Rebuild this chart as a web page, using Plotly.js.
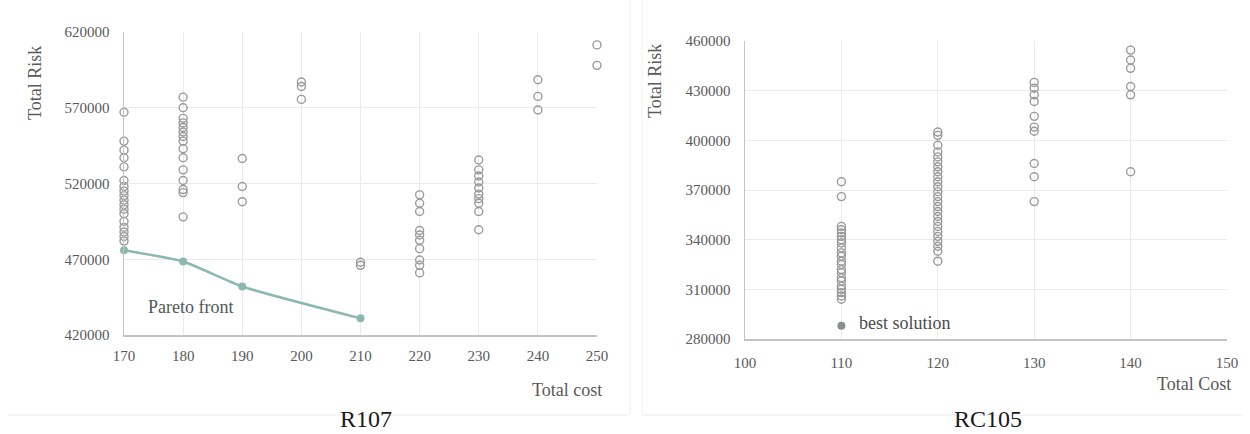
<!DOCTYPE html>
<html>
<head>
<meta charset="utf-8">
<script src="https://cdn.plot.ly/plotly-3.0.1.min.js"></script>
<style>html,body{margin:0;padding:0;background:#fff;}#chart{width:1250px;height:434px;}</style>
</head>
<body>
<div id="chart"></div>
<script>
// ---- R107 data ----
const r107Costs = [170, 180, 190, 200, 210, 220, 230, 240, 250];
const r107Risks = [
  [567000, 548000, 542000, 537000, 531000, 522000, 518000, 515000, 512000, 509000, 506000, 503000, 500000, 495000, 491000, 488000, 485000, 482000],
  [577000, 570000, 563000, 560000, 557000, 554000, 551000, 548000, 543000, 537000, 529000, 522000, 516000, 514000, 498000],
  [536500, 518000, 508000],
  [587000, 584000, 575500],
  [468000, 466000],
  [512500, 507000, 501500, 489000, 486000, 482500, 477000, 469500, 466000, 461000],
  [535500, 529000, 525000, 521000, 517000, 513000, 510000, 507000, 501500, 489500],
  [588500, 577500, 568500],
  [611500, 598000]
];
const paretoCost = [170, 180, 190, 210];
const paretoRisk = [476000, 468500, 452000, 431000];

// ---- RC105 data ----
const rc105Costs = [110, 120, 130, 140];
const rc105Risks = [
  [375000, 366000, 348000, 346000, 344000, 342000, 340000, 338000, 335000, 332000, 330000, 327000, 325000, 322000, 320000, 317000, 315000, 312000, 310000, 308000, 306000, 304000],
  [405000, 403000, 397000, 393000, 390000, 387000, 384000, 381000, 378000, 375000, 372000, 369000, 366000, 363000, 360000, 357000, 354000, 351000, 348000, 345000, 342000, 339000, 336000, 333000, 327000],
  [435000, 431500, 427500, 423500, 414500, 408000, 405500, 386000, 378000, 363000],
  [454500, 448500, 443500, 432500, 427500, 381000]
];
const bestCost = [110];
const bestRisk = [288000];

function flatten(costs, risks) {
  const xs = [], ys = [];
  costs.forEach((c, i) => risks[i].forEach(r => { xs.push(c); ys.push(r); }));
  return {xs, ys};
}
const a = flatten(r107Costs, r107Risks);
const b = flatten(rc105Costs, rc105Risks);

const W = 1250, H = 434;
const px = v => v / W;
const py = v => 1 - v / H;

const openMarker = {symbol: 'circle-open', size: 8, color: '#9a9a9a', line: {width: 1.4, color: '#9a9a9a'}};
const tickFont = {family: 'Liberation Serif, serif', size: 15, color: '#595959'};

const traces = [
  {x: a.xs, y: a.ys, xaxis: 'x', yaxis: 'y', mode: 'markers', type: 'scatter', marker: openMarker, cliponaxis: false},
  {x: paretoCost, y: paretoRisk, xaxis: 'x', yaxis: 'y', mode: 'lines+markers', type: 'scatter',
   line: {color: '#8cb9ae', width: 2.5, shape: 'spline', smoothing: 0.5},
   marker: {symbol: 'circle', size: 8, color: '#8cb9ae'}, cliponaxis: false},
  {x: b.xs, y: b.ys, xaxis: 'x2', yaxis: 'y2', mode: 'markers', type: 'scatter', marker: openMarker, cliponaxis: false},
  {x: bestCost, y: bestRisk, xaxis: 'x2', yaxis: 'y2', mode: 'markers', type: 'scatter',
   marker: {symbol: 'circle', size: 8, color: '#8a8f8e'}, cliponaxis: false}
];

const axBase = {
  showgrid: true, gridcolor: '#ebebeb', gridwidth: 1, zeroline: false,
  showline: true, linecolor: '#c4c4c4', linewidth: 1.5,
  ticks: '', tickfont: tickFont, fixedrange: true, tickmode: 'linear'
};

const layout = {
  width: W, height: H,
  margin: {l: 0, r: 0, t: 0, b: 0},
  paper_bgcolor: '#ffffff', plot_bgcolor: '#ffffff',
  showlegend: false,
  xaxis: Object.assign({}, axBase, {domain: [px(124), px(597)], range: [170, 250], dtick: 10, tick0: 170, anchor: 'y', ticklabelstandoff: 6}),
  yaxis: Object.assign({}, axBase, {domain: [py(335), py(32)], range: [420000, 620000], dtick: 50000, tick0: 420000, tickformat: 'd', anchor: 'x', ticklabelstandoff: 10}),
  xaxis2: Object.assign({}, axBase, {domain: [px(745), px(1227)], range: [100, 150], dtick: 10, tick0: 100, anchor: 'y2', ticklabelstandoff: 9}),
  yaxis2: Object.assign({}, axBase, {domain: [py(339), py(41)], range: [280000, 460000], dtick: 30000, tick0: 280000, tickformat: 'd', anchor: 'x2', ticklabelstandoff: 10}),
  shapes: [
    {type: 'line', xref: 'paper', yref: 'paper', x0: px(630), x1: px(630), y0: py(0), y1: py(415), line: {color: '#ececec', width: 1}},
    {type: 'line', xref: 'paper', yref: 'paper', x0: px(8), x1: px(628), y0: py(415), y1: py(415), line: {color: '#ececec', width: 1}},
    {type: 'line', xref: 'paper', yref: 'paper', x0: px(642), x1: px(1243), y0: py(415), y1: py(415), line: {color: '#ececec', width: 1}},
    {type: 'line', xref: 'paper', yref: 'paper', x0: px(642), x1: px(642), y0: py(0), y1: py(415), line: {color: '#f2f2f2', width: 1}}
  ],
  annotations: [
    {text: 'Total Risk', xref: 'paper', yref: 'paper', x: px(35), y: py(83), textangle: -90, showarrow: false, xanchor: 'center', yanchor: 'middle', font: {family: 'Liberation Serif, serif', size: 18, color: '#595959'}},
    {text: 'Total cost', xref: 'paper', yref: 'paper', x: px(567), y: py(390), showarrow: false, xanchor: 'center', yanchor: 'middle', font: {family: 'Liberation Serif, serif', size: 18, color: '#595959'}},
    {text: 'R107', xref: 'paper', yref: 'paper', x: px(366), y: py(419), showarrow: false, xanchor: 'center', yanchor: 'middle', font: {family: 'Liberation Serif, serif', size: 24, color: '#1a1a1a'}},
    {text: 'Pareto front', xref: 'x', yref: 'y', x: 181.3, y: 438500, showarrow: false, xanchor: 'center', yanchor: 'middle', font: {family: 'Liberation Serif, serif', size: 18, color: '#4f5857'}},
    {text: 'Total Risk', xref: 'paper', yref: 'paper', x: px(655), y: py(81), textangle: -90, showarrow: false, xanchor: 'center', yanchor: 'middle', font: {family: 'Liberation Serif, serif', size: 18, color: '#595959'}},
    {text: 'Total Cost', xref: 'paper', yref: 'paper', x: px(1194), y: py(384), showarrow: false, xanchor: 'center', yanchor: 'middle', font: {family: 'Liberation Serif, serif', size: 18, color: '#595959'}},
    {text: 'RC105', xref: 'paper', yref: 'paper', x: px(988), y: py(419), showarrow: false, xanchor: 'center', yanchor: 'middle', font: {family: 'Liberation Serif, serif', size: 24, color: '#1a1a1a'}},
    {text: 'best solution', xref: 'paper', yref: 'paper', x: px(857), y: py(323), showarrow: false, xanchor: 'left', yanchor: 'middle', font: {family: 'Liberation Serif, serif', size: 18, color: '#4a4a4a'}}
  ]
};

Plotly.newPlot('chart', traces, layout, {staticPlot: true, displayModeBar: false});
</script>
</body>
</html>
